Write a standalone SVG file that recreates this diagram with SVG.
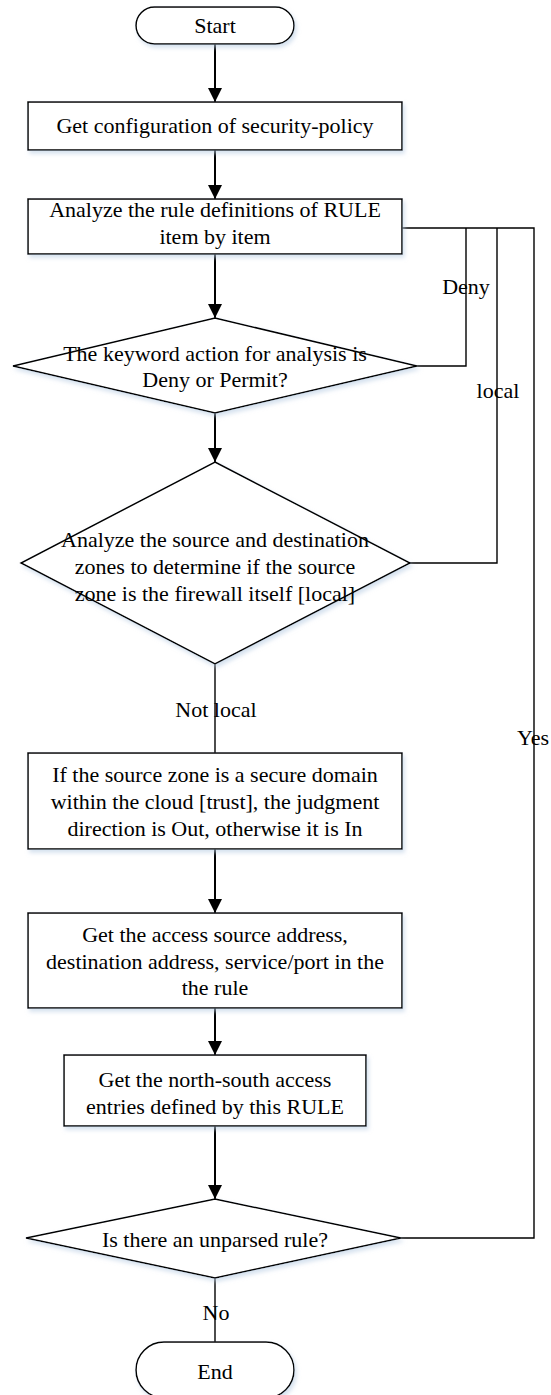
<svg xmlns="http://www.w3.org/2000/svg" width="551" height="1395" viewBox="0 0 551 1395">
<style>
.shape{fill:#fff;stroke:#000;stroke-width:1.5;filter:url(#sh)}
.t{font-family:"Liberation Serif","Times New Roman",serif;font-size:22px;fill:#000;text-anchor:middle}
.arr{stroke:#000;stroke-width:2;fill:none;marker-end:url(#ah)}
.ln{stroke:#000;stroke-width:1.4;fill:none}
</style>
<defs>
<filter id="sh" x="-10%" y="-10%" width="125%" height="130%">
<feDropShadow dx="2" dy="3" stdDeviation="2" flood-color="#b9cde3" flood-opacity="0.6"/>
</filter>
<marker id="ah" markerUnits="userSpaceOnUse" markerWidth="14" markerHeight="14" refX="14" refY="7" orient="auto">
<path d="M0,0 L14,7 L0,14 Z" fill="#000"/>
</marker>
</defs>
<rect width="551" height="1395" fill="#fff"/>
<g id="connectors">
<line class="arr" x1="215" y1="44" x2="215" y2="102"/>
<line class="arr" x1="215" y1="150" x2="215" y2="199"/>
<line class="arr" x1="215" y1="254" x2="215" y2="318"/>
<line class="arr" x1="215" y1="413" x2="215" y2="462"/>
<line class="ln" x1="215" y1="664" x2="215" y2="753"/>
<line class="arr" x1="215" y1="849" x2="215" y2="913"/>
<line class="arr" x1="215" y1="1008" x2="215" y2="1055"/>
<line class="arr" x1="215" y1="1126" x2="215" y2="1199"/>
<line class="ln" x1="215" y1="1278" x2="215" y2="1342"/>
<polyline class="ln" points="402,228 534,228 534,1238 401,1238"/>
<polyline class="ln" points="466,228 466,366 417,366"/>
<polyline class="ln" points="497,228 497,563 410,563"/>
<text class="t" x="466" y="294">Deny</text>
<text class="t" x="498" y="398">local</text>
<text class="t" x="216" y="717">Not local</text>
<text class="t" x="533" y="745">Yes</text>
<text class="t" x="216" y="1320">No</text>
</g>
<g id="start">
<rect class="shape" x="136" y="7" width="158" height="37" rx="18.5"/>
<text class="t" x="215" y="33">Start</text>
</g>
<g id="get-config">
<rect class="shape" x="28" y="102" width="374" height="48"/>
<text class="t" x="215" y="133">Get configuration of security-policy</text>
</g>
<g id="analyze-rules">
<rect class="shape" x="28" y="199" width="374" height="55"/>
<text class="t" x="215" y="217">Analyze the rule definitions of RULE</text>
<text class="t" x="215" y="244">item by item</text>
</g>
<g id="action-decision">
<polygon class="shape" points="215,318 417,366 215,413 13,366"/>
<text class="t" x="215" y="361">The keyword action for analysis is</text>
<text class="t" x="215" y="387">Deny or Permit?</text>
</g>
<g id="zone-decision">
<polygon class="shape" points="215,462 410,563 215,664 21,563"/>
<text class="t" x="215" y="547">Analyze the source and destination</text>
<text class="t" x="215" y="574">zones to determine if the source</text>
<text class="t" x="215" y="601">zone is the firewall itself [local]</text>
</g>
<g id="direction">
<rect class="shape" x="28" y="753" width="374" height="96"/>
<text class="t" x="215" y="782">If the source zone is a secure domain</text>
<text class="t" x="215" y="809">within the cloud [trust], the judgment</text>
<text class="t" x="215" y="836">direction is Out, otherwise it is In</text>
</g>
<g id="get-address">
<rect class="shape" x="28" y="913" width="374" height="95"/>
<text class="t" x="215" y="942">Get the access source address,</text>
<text class="t" x="215" y="969">destination address, service/port in the</text>
<text class="t" x="215" y="995">the rule</text>
</g>
<g id="get-entries">
<rect class="shape" x="64" y="1055" width="302" height="71"/>
<text class="t" x="215" y="1087">Get the north-south access</text>
<text class="t" x="215" y="1114">entries defined by this RULE</text>
</g>
<g id="unparsed-decision">
<polygon class="shape" points="215,1199 401,1238 215,1278 26,1238"/>
<text class="t" x="215" y="1247">Is there an unparsed rule?</text>
</g>
<g id="end">
<rect class="shape" x="136" y="1342" width="158" height="56" rx="28"/>
<text class="t" x="215" y="1379">End</text>
</g>
</svg>
